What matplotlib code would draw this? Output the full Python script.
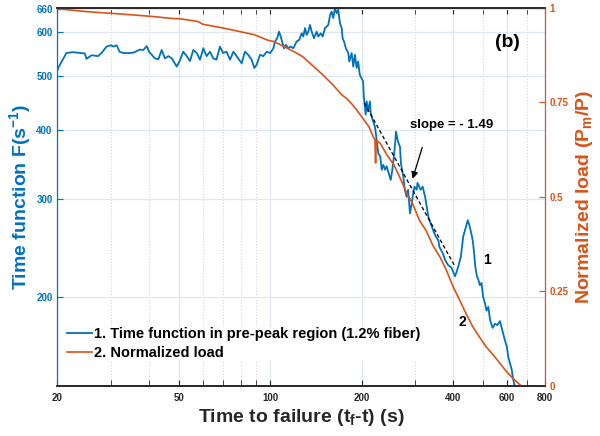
import matplotlib.pyplot as plt
from matplotlib.ticker import FixedLocator, FixedFormatter, NullFormatter

plt.rcParams['font.family'] = 'Liberation Sans'
plt.rcParams['font.weight'] = 'bold'
plt.rcParams['axes.labelweight'] = 'bold'
plt.rcParams['mathtext.fontset'] = 'custom'
plt.rcParams['mathtext.bf'] = 'Liberation Sans:bold'
plt.rcParams['mathtext.rm'] = 'Liberation Sans:bold'
plt.rcParams['mathtext.default'] = 'bf'

blue = '#0072BD'
orange = '#D95319'
dark = '#262626'

#%% Data
# time to failure (s) / time function F (1/s), pre-peak region, 1.2% fiber
t_F = [20, 20.1, 21.4, 22.5, 24.6, 24.9, 25.9, 27.2, 27.9, 29.0, 30.0, 30.5, 31.3,
       32.0, 32.9, 34.2, 35.6, 37.3, 38.3, 39.3, 40.0, 41.8, 42.9, 44.0, 45.1,
       46.3, 47.5, 49.3, 50.4, 51.8, 53.2, 54.5, 55.9, 57.4, 58.8, 60.3, 61.8,
       63.4, 65.0, 66.6, 68.4, 70.0, 71.9, 73.8, 75.7, 77.6, 80.6, 82.6, 84.7,
       86.9, 88.7, 90.3, 92.6, 94.9, 97.4, 100.0, 102.5, 103.7, 105.5, 106.9,
       108.3, 109.8, 111.0, 112.7, 114.7, 116.8, 119.1, 122.2, 124.6, 127.0,
       128.5, 130.2, 131.8, 133.4, 135.2, 136.9, 139.3, 142.2, 143.9, 146.6,
       148.8, 151.4, 153.4, 155.2, 157.4, 159.2, 161.2, 163.3, 165.4, 167.4,
       169.6, 171.8, 173.0, 174.9, 177.3, 180.6, 181.9, 185.3, 187.5, 190.0,
       192.4, 194.6, 197.1, 199.9, 202.0, 203.0, 204.5, 206.0, 207.6, 209.5,
       212.8, 213.9, 217.2, 221.0, 223.8, 226.6, 230.0, 232.6, 235.4, 238.5,
       241.5, 244.4, 249.0, 252.0, 255.0, 258.0, 259.0, 263.0, 267.0, 269.0,
       274.0, 277.0, 281.0, 284.0, 288.0, 292.0, 295.0, 298.0, 303.0, 305.0,
       312.0, 317.0, 323.0, 327.0, 331.0, 337.0, 343.0, 350.0, 357.0, 360.0,
       369.0, 376.0, 385.0, 394.0, 405.0, 410.0, 415.0, 423.0, 431.0, 440.0,
       446.0, 451.0, 457.0, 463.0, 468.0, 472.0, 478.0, 483.0, 489.0, 495.0,
       501.0, 508.0, 514.0, 521.0, 528.0, 538.0, 548.0, 558.0, 569.0, 581.0,
       591.0, 599.0, 606.0, 614.0, 622.0, 628.0, 634.0, 650.0]
F = [512, 517, 550, 552, 549, 537, 545, 543, 550, 565, 568, 565, 568,
     553, 550, 550, 551, 558, 557, 566, 553, 538, 536, 557, 538,
     543, 538, 520, 532, 553, 543, 532, 557, 550, 535, 561, 543,
     553, 538, 535, 565, 550, 553, 535, 553, 543, 527, 553, 546,
     535, 517, 524, 546, 543, 553, 550, 561, 577, 585, 601,
     589, 573, 561, 569, 561, 565, 561, 577, 581, 597,
     589, 610, 593, 601, 618, 601, 585, 601, 589, 597,
     589, 610, 614, 618, 644, 653, 636, 663, 649, 658,
     622, 610, 585, 577, 561, 550, 531, 550, 520, 546,
     517, 531, 502, 495, 489, 462, 444, 426, 450, 432,
     450, 429, 417, 405, 384, 363, 358, 339, 346, 339,
     344, 336, 325, 339, 358, 384, 397, 381, 373, 348,
     329, 312, 303, 312, 283, 295, 307, 316, 312, 321,
     312, 316, 303, 291, 279, 271, 264, 257, 253, 246,
     240, 233, 228, 226, 218, 222, 227, 236, 257, 268,
     275, 270, 262, 253, 240, 227, 218, 215, 210, 212,
     200, 195, 189, 192, 182, 176, 179, 178, 181, 173,
     167, 163, 156, 152, 148, 143, 139, 137]

# normalized load Pm/P
t_P = [20, 25.2, 32.5, 41.8, 46.3, 51, 55, 58, 60, 69, 78, 89, 98, 103, 111,
       120, 128, 139, 149, 161, 172, 178, 187, 200, 211, 218, 221, 222, 223,
       230, 242, 255, 266, 281, 294, 309, 326, 342, 362, 380, 399, 419, 440,
       463, 487, 512, 541, 569, 598, 628, 662, 670]
P = [0.998, 0.990, 0.984, 0.977, 0.973, 0.971, 0.967, 0.964, 0.957, 0.948,
     0.939, 0.929, 0.915, 0.911, 0.898, 0.884, 0.871, 0.845, 0.823, 0.796,
     0.770, 0.761, 0.743, 0.712, 0.686, 0.660, 0.652, 0.590, 0.650, 0.642,
     0.611, 0.585, 0.554, 0.510, 0.482, 0.439, 0.410, 0.373, 0.340, 0.305,
     0.263, 0.228, 0.192, 0.157, 0.130, 0.104, 0.082, 0.060, 0.038, 0.020,
     0.003, 0.0]

# fitted slope segment
t_fit = [204, 405]
F_fit = [447, 227]

x_major = [20, 50, 100, 200, 400, 600, 800]
x_minor = [30, 40, 60, 70, 80, 90, 300, 500, 700]
y_ticks = [200, 300, 400, 500, 600, 660]
p_ticks = [0, 0.25, 0.5, 0.75, 1]

#%% Plot
fig = plt.figure(figsize=(6, 4.36), dpi=100)
ax1 = fig.add_axes([0.0958, 0.1147, 0.8125, 0.867])
ax2 = ax1.twinx()

l1, = ax1.plot(t_F, F, color=blue, lw=1.3)
ax1.plot(t_fit, F_fit, '--', color='k', lw=0.9, dashes=(3, 2))
l2, = ax2.plot(t_P, P, color=orange, lw=1.2)

ax1.set_xscale('log')
ax1.set_yscale('log')
ax1.set_xlim(20, 800)
ax1.set_ylim(138.3, 663)
ax2.set_ylim(0, 1)

ax1.xaxis.set_major_locator(FixedLocator(x_major))
ax1.xaxis.set_major_formatter(FixedFormatter([str(v) for v in x_major]))
ax1.xaxis.set_minor_locator(FixedLocator(x_minor))
ax1.xaxis.set_minor_formatter(NullFormatter())
ax1.yaxis.set_major_locator(FixedLocator(y_ticks))
ax1.yaxis.set_major_formatter(FixedFormatter([str(v) for v in y_ticks]))
ax1.yaxis.set_minor_locator(FixedLocator([]))
ax2.yaxis.set_major_locator(FixedLocator(p_ticks))
ax2.yaxis.set_major_formatter(FixedFormatter(['0', '0.25', '0.5', '0.75', '1']))

ax1.grid(True, which='major', color='#dfe7ef', lw=0.9)
ax1.grid(True, which='minor', axis='x', color='#d4d4d4', lw=0.8, ls=':')
ax1.set_axisbelow(True)

ax1.tick_params(axis='x', which='both', direction='in', length=4, top=True,
                colors=dark, labelsize=7, pad=5)
ax1.tick_params(axis='y', direction='in', length=4, colors=blue, labelsize=7)
ax2.tick_params(axis='y', direction='in', length=4, colors=orange, labelsize=7)

for ax in (ax1, ax2):
    ax.spines['top'].set_color(dark)
    ax.spines['bottom'].set_color(dark)
    ax.spines['top'].set_linewidth(1.2)
    ax.spines['bottom'].set_linewidth(1.2)
    ax.spines['left'].set_color(blue)
    ax.spines['right'].set_color(orange)

ax1.set_xlabel('Time to failure (t$_f$-t) (s)', fontsize=14, color=dark, labelpad=3)
ax1.set_ylabel('Time function F(s$^{-1}$)', fontsize=14, color=blue, labelpad=2)
ax2.set_ylabel('Normalized load (P$_m$/P)', fontsize=14, color=orange, labelpad=4)

ax1.text(602, 575, '(b)', fontsize=14, ha='center', va='center', color='k')
ax1.text(288, 408, 'slope = - 1.49', fontsize=9.5, ha='left', va='center', color='k')
ax1.annotate('', xy=(292, 323), xytext=(318, 376),
             arrowprops=dict(arrowstyle='-|>', color='k', lw=0.9,
                             mutation_scale=10))
ax1.text(517, 233, '1', fontsize=10, ha='center', va='center', color='k')
ax1.text(429, 180, '2', fontsize=10, ha='center', va='center', color='k')

leg = ax2.legend([l1, l2], ['1. Time function in pre-peak region (1.2% fiber)',
                            '2. Normalized load'],
                 loc='upper left', bbox_to_anchor=(0.0195, 0.155),
                 fontsize=10.5, handlelength=1.7, handletextpad=0.15,
                 labelspacing=0.3, borderpad=0, borderaxespad=0,
                 frameon=True, facecolor='white', edgecolor='none', framealpha=1)

plt.savefig('out.png', dpi=100)
